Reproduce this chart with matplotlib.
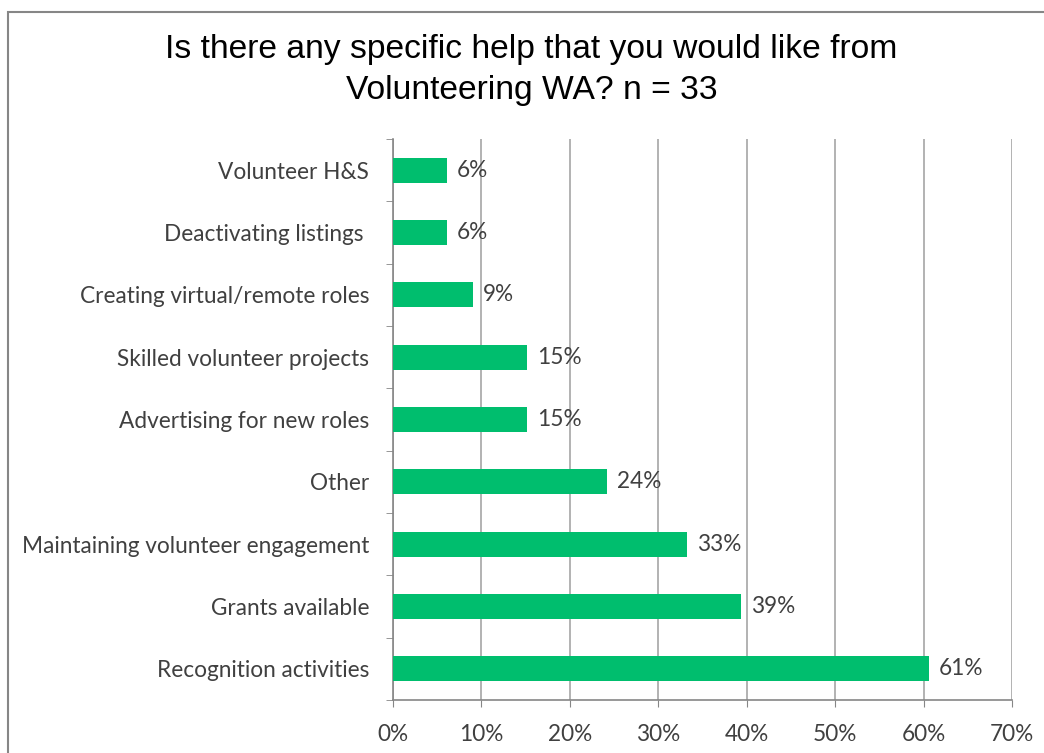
import matplotlib

matplotlib.use('agg')
import matplotlib.pyplot as plt
from matplotlib.patches import Rectangle

# bottom to top, as drawn
categories = ["Recognition activities", "Grants available",
              "Maintaining volunteer engagement", "Other",
              "Advertising for new roles", "Skilled volunteer projects",
              "Creating virtual/remote roles", "Deactivating listings ",
              "Volunteer H&S"]
shares = [60.6, 39.4, 33.3, 24.2, 15.2, 15.2, 9.1, 6.1, 6.1]
labels = ["61%", "39%", "33%", "24%", "15%", "15%", "9%", "6%", "6%"]
xticks = [0, 10, 20, 30, 40, 50, 60, 70]

green = "#00BE6E"
grid_col = "#A6A6A6"
text_col = "#404040"
label_font = "Lato"
fs = 16.3

fig = plt.figure(figsize=(10.44, 7.53), dpi=100)
ax = fig.add_axes([0.3764, 0.0704, 0.5929, 0.745])

ypos = list(range(len(categories)))
ax.barh(ypos, shares, height=0.4, color=green, zorder=3)
for y, v, lab in zip(ypos, shares, labels):
    ax.text(v + 1.1, y, lab, va="center", ha="left", fontsize=fs,
            family=label_font, color=text_col)

ax.set_xlim(0, 70)
ax.set_ylim(-0.5, len(categories) - 0.5)
ax.set_xticks(xticks)
ax.set_xticklabels([f"{t}%" for t in xticks], fontsize=fs,
                   family=label_font, color=text_col)
ax.set_yticks(ypos)
ax.set_yticklabels(categories, fontsize=fs, family=label_font, color=text_col)
ax.set_yticks([i - 0.5 for i in range(len(categories) + 1)], minor=True)
ax.tick_params(axis="y", which="major", length=0, pad=17)
ax.tick_params(axis="y", which="minor", length=5, color="#868686", direction="out")
ax.tick_params(axis="x", length=5, color="#868686", direction="out", pad=12)

ax.xaxis.grid(True, color=grid_col, linewidth=1.2, zorder=0)
ax.set_axisbelow(True)
for side in ["top", "right"]:
    ax.spines[side].set_visible(False)
for side in ["left", "bottom"]:
    ax.spines[side].set_color("#868686")
    ax.spines[side].set_linewidth(1.2)

fig.text(0.509, 0.907, "Is there any specific help that you would like from\nVolunteering WA? n = 33",
         ha="center", va="center", fontsize=24.2, family="Liberation Sans",
         linespacing=1.4)

# chart-area border (right and bottom edges fall outside the image)
fig.patches.append(Rectangle((8 / 1044, -0.05), 1.1, 1 - 12 / 753 + 0.05,
                             transform=fig.transFigure, fill=False,
                             edgecolor="#868686", linewidth=1.5))

fig.savefig("out.png", dpi=100)
